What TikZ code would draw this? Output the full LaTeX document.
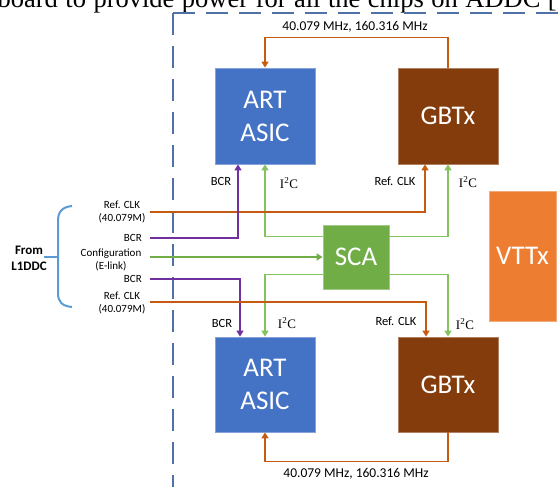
\documentclass[tikz,border=0pt]{standalone}
\usepackage{fontspec}
\setmainfont{Carlito}
\newfontfamily\tnr{Liberation Serif}
\usetikzlibrary{arrows.meta,calc}
\definecolor{artblue}{HTML}{4472C4}
\definecolor{gbtbrown}{HTML}{843C0C}
\definecolor{scagreen}{HTML}{70AD47}
\definecolor{vttorange}{HTML}{ED7D31}
\definecolor{clkorange}{HTML}{C55A11}
\definecolor{bcrpurple}{HTML}{7030A0}
\definecolor{i2cgreen}{HTML}{84C25E}
\definecolor{framebl}{HTML}{4F71A8}
\definecolor{bracebl}{HTML}{5B9BD5}
\newcommand{\wsp}{\hspace{7.5pt}}
\begin{document}
\begin{tikzpicture}[x=1pt,y=-1pt,
  chip/.style={fill=#1, draw=#1!65!white, line width=0.8pt, text=white, align=center,
    font=\fontsize{27}{33}\selectfont, inner sep=0pt},
  tip/.style={-{Triangle[width=7pt,length=6pt]}},
  clk/.style={draw=clkorange, line width=1.8pt},
  bcr/.style={draw=bcrpurple, line width=1.8pt},
  cfg/.style={draw=scagreen, line width=2pt},
  i2c/.style={draw=i2cgreen, line width=1.3pt},
  lbl/.style={font=\fontsize{12.5}{14}\selectfont, inner sep=0pt},
  inlbl/.style={font=\fontsize{11}{13.5}\selectfont, align=center, inner sep=0pt},
  iic/.style={font=\tnr\fontsize{13}{15}\selectfont, inner sep=0pt},
  frame/.style={draw=framebl, line width=1.3pt, dash pattern=on 22pt off 11pt}]
\useasboundingbox (0,0) rectangle (558,487);
\clip (0,0) rectangle (558,487);

% cut-off caption text at the top
\node[anchor=base east, inner sep=0pt, font=\tnr\fontsize{26.5}{30}\selectfont] (hdr) at (557,7.5)
  {board\wsp to\wsp provide\wsp power\wsp for\wsp all\wsp the\wsp chips\wsp on\wsp ADDC\wsp [};

% dashed frame
\coordinate (fc) at (173,13);
\draw[frame] (fc) -- (558,13);
\draw[frame] (fc) -- (173,487);

% blocks
\node[chip=artblue, minimum width=100pt, minimum height=96pt] (art1) at (265,116) {ART\\ASIC};
\node[chip=gbtbrown, minimum width=100pt, minimum height=96pt] (gbt1) at (448,116) {GBTx};
\node[chip=scagreen, minimum width=66pt, minimum height=64pt] (sca) at (356,257) {SCA};
\node[chip=artblue, minimum width=100pt, minimum height=95pt] (art2) at (265,384.5) {ART\\ASIC};
\node[chip=gbtbrown, minimum width=100pt, minimum height=95pt] (gbt2) at (448,384.5) {GBTx};
\node[chip=vttorange, minimum width=67pt, minimum height=130pt] (vtt) at (522.5,256) {VTTx};

% input ends
\coordinate (in1) at (150,212);
\coordinate (in2) at (150,238);
\coordinate (in3) at (150,257);
\coordinate (in4) at (150,279);
\coordinate (in5) at (150,302);

% clock loops between GBTx and ART
\draw[clk, tip] (gbt1.north) -- ++(0,-30) -| (art1.north);
\draw[clk, tip] (gbt2.south) -- ++(0,29) -| (art2.south);

% I2C from SCA
\draw[i2c, tip] ([yshift=-12pt]sca.north west) -| (art1.south);
\draw[i2c, tip] ([yshift=-12pt]sca.north east) -| (gbt1.south);
\draw[i2c, tip] ([yshift=15pt]sca.south west) -| (art2.north);
\draw[i2c, tip] ([yshift=15pt]sca.south east) -| (gbt2.north);

% inputs
\draw[clk, tip] (in1) -| ([xshift=-23pt]gbt1.south);
\draw[bcr, tip] (in2) -| ([xshift=-27pt]art1.south);
\draw[cfg, tip] (in3) -- (sca.west);
\draw[bcr, tip] (in4) -| ([xshift=-25pt]art2.north);
\draw[clk, tip] (in5) -| ([xshift=-22pt]gbt2.north);

% labels near blocks
\node[lbl] (lb1) at (221,181) {BCR};
\node[iic] (li1) at (289,183) {I\textsuperscript{2}C};
\node[lbl] (lr1) at (395,181) {Ref. CLK};
\node[iic] (li2) at (468,182) {I\textsuperscript{2}C};
\node[lbl] (lb2) at (222,323) {BCR};
\node[iic] (li3) at (287,323) {I\textsuperscript{2}C};
\node[lbl] (lr2) at (396,321) {Ref. CLK};
\node[iic] (li4) at (465,324) {I\textsuperscript{2}C};

% frequency labels
\node[font=\fontsize{13.5}{16}\selectfont, inner sep=0pt] (f1) at (355,27) {40.079 MHz, 160.316 MHz};
\node[font=\fontsize{13.5}{16}\selectfont, inner sep=0pt] (f2) at (356,474) {40.079 MHz, 160.316 MHz};

% left input labels
\node[inlbl] (t1) at (122,212) {Ref. CLK\\(40.079M)};
\node[inlbl, anchor=east] (t2) at (142,238) {BCR};
\node[inlbl] (t3) at (111,260) {Configuration\\(E-link)};
\node[inlbl, anchor=east] (t4) at (142,279) {BCR};
\node[inlbl] (t5) at (122,303) {Ref. CLK\\(40.079M)};

% brace and source
\draw[draw=bracebl, line width=2pt]
  (72,206) .. controls (62,207) and (58,212) .. (58,221) -- (58,293)
  .. controls (58,302) and (62,306) .. (72,307);
\draw[draw=bracebl, line width=2pt] (44,257) -- (58,257);
\node[font=\bfseries\fontsize{13}{16}\selectfont, align=center, inner sep=0pt] (src) at (29,258) {From\\L1DDC};
\end{tikzpicture}
\end{document}
